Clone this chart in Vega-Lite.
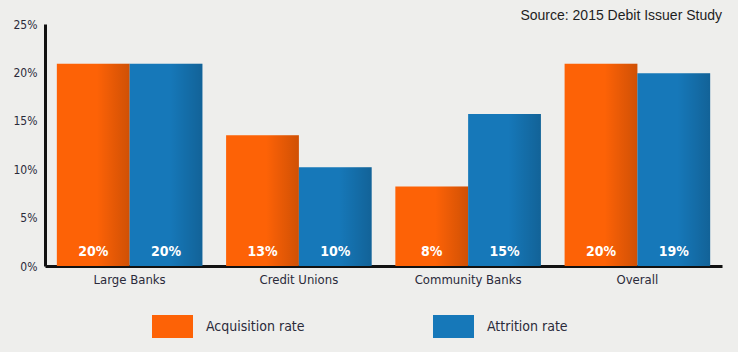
{
  "$schema": "https://vega.github.io/schema/vega-lite/v6.json",
  "width": 677,
  "height": 242,
  "autosize": {"type": "none"},
  "padding": {"left": 45, "top": 24, "right": 16, "bottom": 86},
  "background": "#eeeeec",
  "title": {
    "text": "Source: 2015 Debit Issuer Study",
    "anchor": "end",
    "orient": "top",
    "offset": -5,
    "font": "Liberation Sans",
    "fontSize": 14,
    "fontWeight": "normal",
    "color": "#1e1e1e"
  },
  "config": {
    "view": {"stroke": null},
    "font": "DejaVu Sans Condensed, Roboto, sans-serif"
  },
  "data": {
    "values": [
      {"group": "Large Banks", "series": "Acquisition rate", "value": 20.9, "label": "20%"},
      {"group": "Large Banks", "series": "Attrition rate", "value": 20.9, "label": "20%"},
      {"group": "Credit Unions", "series": "Acquisition rate", "value": 13.5, "label": "13%"},
      {"group": "Credit Unions", "series": "Attrition rate", "value": 10.2, "label": "10%"},
      {"group": "Community Banks", "series": "Acquisition rate", "value": 8.2, "label": "8%"},
      {"group": "Community Banks", "series": "Attrition rate", "value": 15.7, "label": "15%"},
      {"group": "Overall", "series": "Acquisition rate", "value": 20.9, "label": "20%"},
      {"group": "Overall", "series": "Attrition rate", "value": 19.9, "label": "19%"}
    ]
  },
  "encoding": {
    "x": {
      "field": "group",
      "type": "nominal",
      "sort": ["Large Banks", "Credit Unions", "Community Banks", "Overall"],
      "scale": {"paddingInner": 0.14, "paddingOuter": 0.07},
      "axis": {
        "title": null,
        "labelAngle": 0,
        "ticks": false,
        "domainColor": "#111111",
        "domainWidth": 3,
        "labelPadding": 7,
        "labelFontSize": 13,
        "labelColor": "#2a2a3a",
        "labelBaseline": "top"
      }
    },
    "xOffset": {
      "field": "series",
      "type": "nominal",
      "sort": ["Acquisition rate", "Attrition rate"],
      "scale": {"paddingInner": 0, "paddingOuter": 0}
    }
  },
  "layer": [
    {
      "mark": {"type": "bar", "cornerRadius": 0},
      "encoding": {
        "y": {
          "field": "value",
          "type": "quantitative",
          "scale": {"domain": [0, 25], "nice": false},
          "axis": {
            "title": null,
            "values": [0, 5, 10, 15, 20, 25],
            "labelExpr": "datum.value + '%'",
            "grid": false,
            "ticks": false,
            "domainColor": "#111111",
            "domainWidth": 3,
            "labelPadding": 8,
            "labelFontSize": 12,
            "labelColor": "#2a2a3a"
          }
        },
        "color": {
          "field": "series",
          "type": "nominal",
          "sort": ["Acquisition rate", "Attrition rate"],
          "scale": {"domain": ["Acquisition rate", "Attrition rate"], "range": ["#fd6206", "#1678b9"]},
          "legend": {
            "title": null,
            "orient": "none",
            "direction": "horizontal",
            "columns": 2,
            "legendX": 107,
            "legendY": 282,
            "padding": 0,
            "symbolType": "M-1,-0.56H1V0.56H-1Z",
            "symbolSize": 1681,
            "symbolStrokeWidth": 0,
            "symbolOpacity": 1,
            "labelFontSize": 14,
            "labelColor": "#2a2a3a",
            "labelOffset": 13,
            "columnPadding": 128,
            "labelLimit": 200
          }
        }
      }
    },
    {
      "mark": {
        "type": "bar",
        "color": {
          "gradient": "linear",
          "x1": 0, "x2": 1, "y1": 0, "y2": 0,
          "stops": [
            {"offset": 0, "color": "rgba(0,0,0,0)"},
            {"offset": 0.55, "color": "rgba(0,0,0,0)"},
            {"offset": 1, "color": "rgba(0,0,0,0.18)"}
          ]
        }
      },
      "encoding": {
        "y": {"field": "value", "type": "quantitative"}
      }
    },
    {
      "mark": {
        "type": "text",
        "color": "white",
        "fontWeight": "bold",
        "fontSize": 14,
        "baseline": "middle",
        "dy": -14
      },
      "encoding": {
        "y": {"datum": 0, "type": "quantitative"},
        "text": {"field": "label"}
      }
    }
  ]
}
